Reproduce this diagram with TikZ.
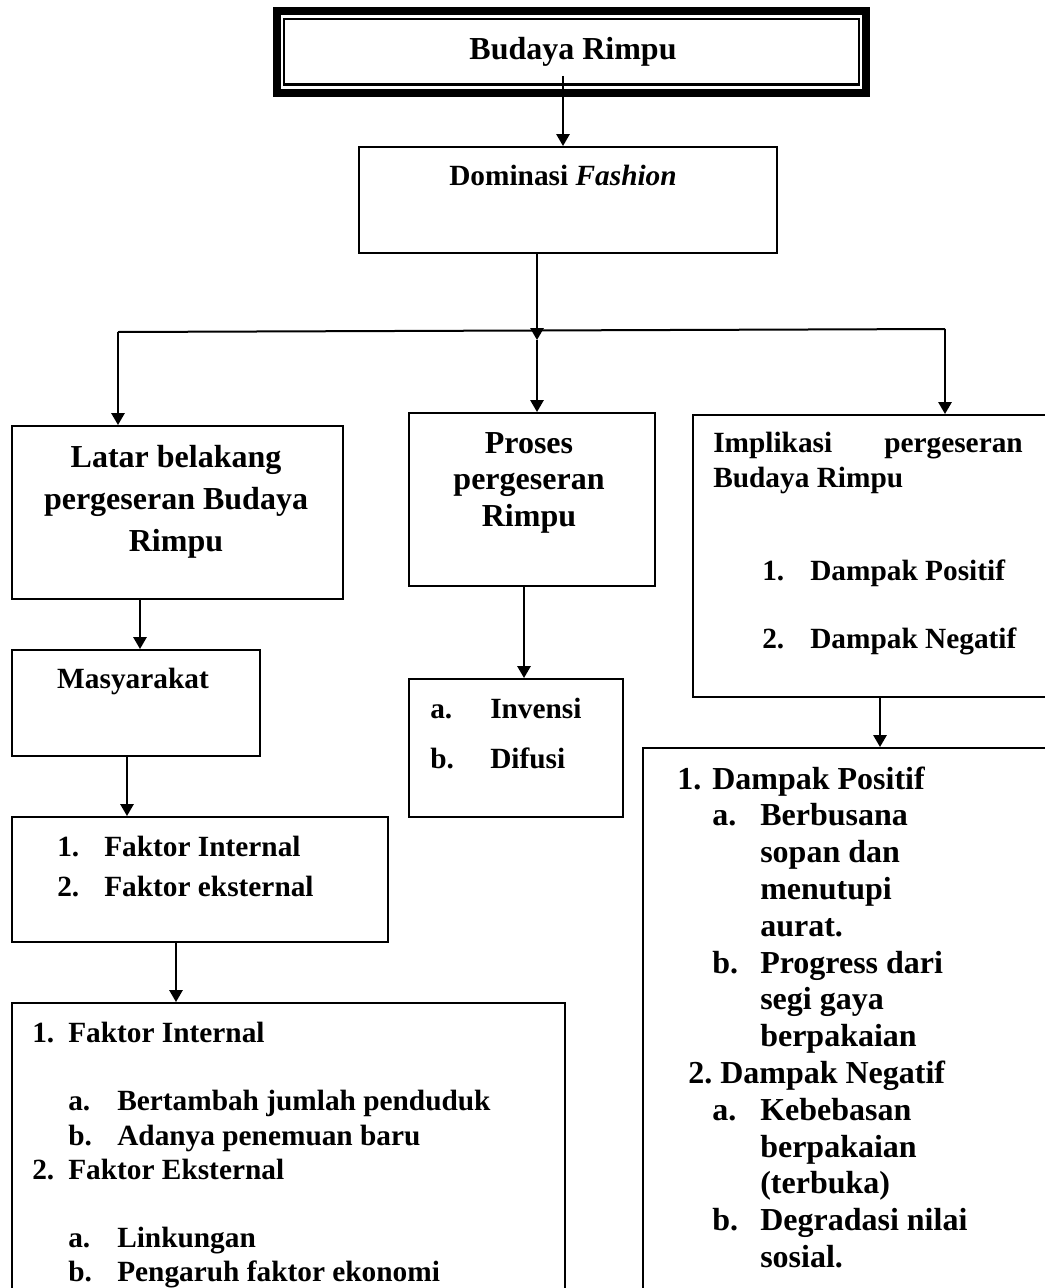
\documentclass[tikz,border=0pt]{standalone}
\usepackage{fontspec}
\setmainfont{Liberation Serif}
\usetikzlibrary{arrows.meta,fit}
\newcommand\fBig{\fontsize{24}{27.6}\selectfont\bfseries}
\newcommand\fMid{\fontsize{22}{25.3}\selectfont\bfseries}
\begin{document}
\begin{tikzpicture}[x=0.75pt,y=-0.75pt,
  box/.style={draw, line width=1.5pt, inner sep=0pt},
  ln/.style={line width=1.5pt},
  arr/.style={line width=1.5pt, -{Triangle[width=10pt,length=9pt]}},
  big/.style={font=\fBig, inner sep=0pt},
  mid/.style={font=\fMid, inner sep=0pt},
  bw/.style={anchor=base west},
  bc/.style={anchor=base},
  be/.style={anchor=base east}]
\useasboundingbox (0,0) rectangle (1045,1288);
\clip (0,0) rectangle (1045,1288);
\fill[white] (0,0) rectangle (1045,1288);

% top box (thick + thin frame)
\node[draw, line width=6pt, inner sep=0pt, fit={(277,11.3) (866,93.3)}] (top) {};
\node[draw, line width=2.2pt, inner sep=0pt, fit={(284,19) (859,84.7)}] (topin) {};
\node[big, bc] (ttop) at (573,60) {Budaya Rimpu};

% boxes
\node[box, fit={(359,147) (777,253)}] (dom) {};
\node[box, fit={(12,426) (343,599)}] (latar) {};
\node[box, fit={(409,413) (655,586)}] (proses) {};
\node[box, fit={(693,415) (1070,697)}] (impl) {};
\node[box, fit={(12,650) (260,756)}] (masy) {};
\node[box, fit={(409,679) (623,817)}] (inv) {};
\node[box, fit={(12,817) (388,942)}] (fak) {};
\node[box, fit={(12,1003) (565,1310)}] (bl) {};
\node[box, fit={(643,748) (1070,1310)}] (br) {};

% texts
\node[mid, bc] (tdom) at (563,185) {Dominasi \textit{Fashion}};

\node[big, bc] (tl1) at (176,467) {Latar belakang};
\node[big, bc] (tl2) at (176,509) {pergeseran Budaya};
\node[big, bc] (tl3) at (176,551) {Rimpu};

\node[big, bc] (tp1) at (529,453) {Proses};
\node[big, bc] (tp2) at (529,489.5) {pergeseran};
\node[big, bc] (tp3) at (529,526) {Rimpu};

\node[mid, bw] (ti1) at (713,452) {Implikasi};
\node[mid, be] (ti2) at (1023,452) {pergeseran};
\node[mid, bw] (ti3) at (713,487) {Budaya Rimpu};
\node[mid, bw] (ti4) at (762,580) {1.};
\node[mid, bw] (ti5) at (810,580) {Dampak Positif};
\node[mid, bw] (ti6) at (762,648) {2.};
\node[mid, bw] (ti7) at (810,648) {Dampak Negatif};

\node[mid, bc] (tm) at (133,688) {Masyarakat};

\node[mid, bw] (tv1) at (430,718) {a.};
\node[mid, bw] (tv2) at (490,718) {Invensi};
\node[mid, bw] (tv3) at (430,768) {b.};
\node[mid, bw] (tv4) at (490,768) {Difusi};

\node[mid, bw] (tf1) at (57,856) {1.};
\node[mid, bw] (tf2) at (104,856) {Faktor Internal};
\node[mid, bw] (tf3) at (57,896) {2.};
\node[mid, bw] (tf4) at (104,896) {Faktor eksternal};

\node[mid, bw] (tb1) at (32,1042) {1.};
\node[mid, bw] (tb2) at (68,1042) {Faktor Internal};
\node[mid, bw] (tb3) at (68,1110) {a.};
\node[mid, bw] (tb4) at (117,1110) {Bertambah jumlah penduduk};
\node[mid, bw] (tb5) at (68,1145) {b.};
\node[mid, bw] (tb6) at (117,1145) {Adanya penemuan baru};
\node[mid, bw] (tb7) at (32,1179) {2.};
\node[mid, bw] (tb8) at (68,1179) {Faktor Eksternal};
\node[mid, bw] (tb9) at (68,1247) {a.};
\node[mid, bw] (tb10) at (117,1247) {Linkungan};
\node[mid, bw] (tb11) at (68,1281) {b.};
\node[mid, bw] (tb12) at (117,1281) {Pengaruh faktor ekonomi};

\node[big, bw] (tr1) at (677,789) {1.};
\node[big, bw] (tr2) at (712,789) {Dampak Positif};
\node[big, bw] (tr3) at (712,825.8) {a.};
\node[big, bw] (tr4) at (760,825.8) {Berbusana};
\node[big, bw] (tr5) at (760,862.6) {sopan dan};
\node[big, bw] (tr6) at (760,899.4) {menutupi};
\node[big, bw] (tr7) at (760,936.2) {aurat.};
\node[big, bw] (tr8) at (712,973) {b.};
\node[big, bw] (tr9) at (760,973) {Progress dari};
\node[big, bw] (tr10) at (760,1009.8) {segi gaya};
\node[big, bw] (tr11) at (760,1046.6) {berpakaian};
\node[big, bw] (tr12) at (688,1083.4) {2.};
\node[big, bw] (tr13) at (720,1083.4) {Dampak Negatif};
\node[big, bw] (tr14) at (712,1120.2) {a.};
\node[big, bw] (tr15) at (760,1120.2) {Kebebasan};
\node[big, bw] (tr16) at (760,1157) {berpakaian};
\node[big, bw] (tr17) at (760,1193.8) {(terbuka)};
\node[big, bw] (tr18) at (712,1230.6) {b.};
\node[big, bw] (tr19) at (760,1230.6) {Degradasi nilai};
\node[big, bw] (tr20) at (760,1267.4) {sosial.};

% connector coordinates
\coordinate (tstart) at (563,76);
\coordinate (xM) at (537,0);
\coordinate (jtip) at (537,340);
\coordinate (hl) at (118,332);
\coordinate (hr) at (945,329);
\coordinate (xL1) at (140,0);
\coordinate (xL2) at (127,0);
\coordinate (xL3) at (176,0);
\coordinate (xP) at (524,0);
\coordinate (xR) at (880,0);

% connectors
\draw[arr] (tstart) -- (dom.north -| tstart);
\draw[arr] (dom.south -| xM) -- (jtip);
\draw[ln] (hl) -- (hr);
\draw[arr] (jtip) -- (proses.north -| xM);
\draw[arr] (hl) -- (latar.north -| hl);
\draw[arr] (hr) -- (impl.north -| hr);
\draw[arr] (latar.south -| xL1) -- (masy.north -| xL1);
\draw[arr] (masy.south -| xL2) -- (fak.north -| xL2);
\draw[arr] (fak.south -| xL3) -- (bl.north -| xL3);
\draw[arr] (proses.south -| xP) -- (inv.north -| xP);
\draw[arr] (impl.south -| xR) -- (br.north -| xR);
\end{tikzpicture}
\end{document}
